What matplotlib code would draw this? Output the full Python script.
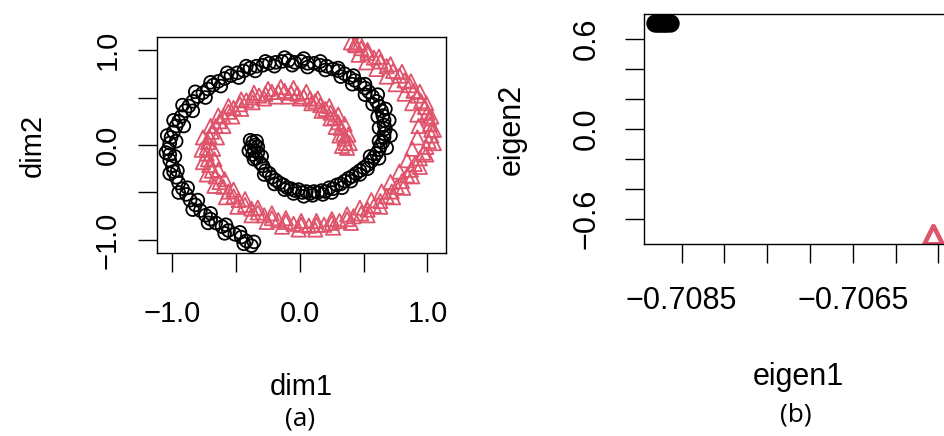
import matplotlib
matplotlib.use("Agg")
import matplotlib.pyplot as plt

# (a) spiral data: centre line of each band
black_x = [-0.37, -0.38, -0.36, -0.35, -0.37, -0.34, -0.33, -0.31, -0.29, -0.27, -0.24, -0.22,
           -0.19, -0.16, -0.13, -0.10, -0.07, -0.04, -0.01, 0.02, 0.05, 0.08, 0.11, 0.14,
           0.17, 0.20, 0.23, 0.26, 0.29, 0.32, 0.35, 0.38, 0.41, 0.44, 0.47, 0.50,
           0.53, 0.56, 0.58, 0.60, 0.62, 0.63, 0.65, 0.66, 0.66, 0.67, 0.66, 0.66,
           0.65, 0.64, 0.62, 0.60, 0.57, 0.54, 0.51, 0.47, 0.43, 0.39, 0.35, 0.30,
           0.26, 0.21, 0.16, 0.11, 0.06, 0.01, -0.04, -0.09, -0.14, -0.19, -0.24, -0.29,
           -0.34, -0.39, -0.44, -0.49, -0.54, -0.59, -0.64, -0.68, -0.72, -0.76, -0.80, -0.84,
           -0.87, -0.90, -0.93, -0.95, -0.97, -0.99, -1.01, -1.02, -1.03, -1.02, -1.02, -1.00,
           -0.99, -0.97, -0.95, -0.92, -0.89, -0.86, -0.82, -0.78, -0.74, -0.70, -0.66, -0.61,
           -0.56, -0.51, -0.46, -0.42, -0.38]
black_y = [0.03, -0.02, -0.06, 0.00, -0.10, -0.14, -0.08, -0.19, -0.22, -0.27, -0.30, -0.34,
           -0.37, -0.40, -0.42, -0.45, -0.46, -0.48, -0.47, -0.50, -0.49, -0.51, -0.49, -0.50,
           -0.48, -0.49, -0.45, -0.46, -0.42, -0.41, -0.38, -0.35, -0.33, -0.30, -0.27, -0.24,
           -0.21, -0.17, -0.13, -0.09, -0.05, -0.01, 0.03, 0.08, 0.12, 0.17, 0.21, 0.26,
           0.31, 0.36, 0.41, 0.46, 0.51, 0.56, 0.60, 0.64, 0.68, 0.71, 0.75, 0.78,
           0.80, 0.83, 0.84, 0.86, 0.86, 0.88, 0.87, 0.89, 0.88, 0.87, 0.86, 0.84,
           0.83, 0.81, 0.78, 0.76, 0.73, 0.70, 0.67, 0.63, 0.59, 0.55, 0.51, 0.46,
           0.41, 0.36, 0.30, 0.25, 0.20, 0.14, 0.08, 0.02, -0.04, -0.10, -0.16, -0.22,
           -0.28, -0.34, -0.40, -0.46, -0.52, -0.58, -0.63, -0.69, -0.74, -0.78, -0.82, -0.86,
           -0.90, -0.94, -0.97, -1.01, -1.06]

# scattered points at the edges of the black band
black_x2 = [-0.39, -0.34, -0.40, -0.33, -0.36, -0.30, -0.28, -0.20, -0.12, -0.05, 0.03, 0.10,
            0.18, 0.25, 0.33, 0.40, 0.47, 0.53, 0.55, 0.62, 0.68, 0.62, 0.71, 0.62,
            0.70, 0.61, 0.67, 0.57, 0.61, 0.51, 0.51, 0.41, 0.42, 0.32, 0.30, 0.20,
            0.16, 0.06, 0.03, -0.06, -0.12, -0.20, -0.27, -0.35, -0.42, -0.48, -0.57, -0.62,
            -0.70, -0.74, -0.82, -0.84, -0.92, -0.91, -0.99, -0.97, -1.04, -0.98, -1.05, -0.96,
            -1.02, -0.88, -0.95, -0.80, -0.84, -0.70, -0.72, -0.58, -0.59, -0.47, -0.44, -0.36]
black_y2 = [0.05, 0.04, -0.06, -0.02, -0.15, -0.12, -0.31, -0.41, -0.47, -0.51, -0.54, -0.53,
            -0.52, -0.50, -0.45, -0.38, -0.31, -0.25, -0.12, -0.14, -0.03, 0.04, 0.10, 0.18,
            0.26, 0.30, 0.38, 0.43, 0.53, 0.53, 0.64, 0.64, 0.73, 0.72, 0.81, 0.79,
            0.88, 0.82, 0.91, 0.84, 0.92, 0.83, 0.88, 0.78, 0.83, 0.71, 0.76, 0.62,
            0.66, 0.50, 0.56, 0.36, 0.42, 0.20, 0.26, 0.04, 0.10, -0.12, -0.08, -0.27,
            -0.30, -0.45, -0.50, -0.58, -0.68, -0.72, -0.82, -0.84, -0.93, -0.92, -1.04, -1.02]

pink_x = [0.37, 0.36, 0.35, 0.34, 0.32, 0.30, 0.27, 0.24, 0.20, 0.16, 0.12, 0.08,
          0.03, -0.02, -0.07, -0.12, -0.17, -0.22, -0.27, -0.32, -0.37, -0.42, -0.47, -0.52,
          -0.56, -0.60, -0.63, -0.66, -0.69, -0.71, -0.72, -0.73, -0.73, -0.72, -0.71, -0.69,
          -0.66, -0.63, -0.60, -0.56, -0.52, -0.48, -0.43, -0.38, -0.33, -0.28, -0.22, -0.17,
          -0.11, -0.05, 0.01, 0.07, 0.13, 0.19, 0.25, 0.31, 0.37, 0.42, 0.48, 0.53,
          0.58, 0.63, 0.68, 0.72, 0.76, 0.80, 0.84, 0.87, 0.90, 0.94, 0.97, 0.99,
          1.01, 1.03, 1.03, 1.02, 1.01, 1.00, 0.98, 0.95, 0.92, 0.89, 0.86, 0.82,
          0.78, 0.73, 0.68, 0.63, 0.58, 0.53, 0.48, 0.44, 0.40]
pink_y = [-0.03, 0.02, 0.07, 0.12, 0.18, 0.24, 0.29, 0.34, 0.38, 0.42, 0.46, 0.49,
          0.51, 0.54, 0.55, 0.57, 0.56, 0.56, 0.54, 0.52, 0.50, 0.47, 0.43, 0.39,
          0.35, 0.30, 0.25, 0.20, 0.14, 0.09, 0.03, -0.03, -0.09, -0.15, -0.21, -0.27,
          -0.33, -0.39, -0.44, -0.49, -0.54, -0.58, -0.63, -0.67, -0.71, -0.74, -0.77, -0.79,
          -0.81, -0.83, -0.84, -0.85, -0.84, -0.84, -0.82, -0.80, -0.78, -0.75, -0.72, -0.68,
          -0.64, -0.59, -0.54, -0.49, -0.44, -0.38, -0.32, -0.26, -0.20, -0.14, -0.08, -0.02,
          0.04, 0.10, 0.16, 0.22, 0.28, 0.34, 0.40, 0.46, 0.52, 0.57, 0.63, 0.68,
          0.73, 0.78, 0.83, 0.88, 0.92, 0.97, 1.02, 1.05, 1.08]

# scattered points at the edges of the pink band
pink_x2 = [0.39, 0.33, 0.38, 0.31, 0.35, 0.28, 0.30, 0.24, 0.23, 0.17, 0.14, 0.09,
           0.05, 0.00, -0.05, -0.09, -0.15, -0.19, -0.25, -0.28, -0.36, -0.37, -0.46, -0.46,
           -0.56, -0.53, -0.64, -0.60, -0.70, -0.65, -0.76, -0.68, -0.77, -0.67, -0.76, -0.64,
           -0.73, -0.59, -0.67, -0.52, -0.58, -0.43, -0.49, -0.33, -0.38, -0.22, -0.26, -0.11,
           -0.14, 0.01, -0.01, 0.13, 0.12, 0.25, 0.26, 0.37, 0.40, 0.47, 0.53, 0.56,
           0.63, 0.64, 0.73, 0.71, 0.81, 0.78, 0.88, 0.84, 0.94, 0.88, 0.99, 0.92,
           1.05, 0.93, 1.05, 0.92, 1.03, 0.88, 0.99, 0.82, 0.94, 0.75, 0.87, 0.68,
           0.80, 0.60, 0.71, 0.52, 0.62, 0.46, 0.53, 0.43, 0.47]
pink_y2 = [0.02, -0.01, 0.11, 0.10, 0.22, 0.19, 0.32, 0.28, 0.41, 0.36, 0.49, 0.44,
           0.56, 0.49, 0.60, 0.51, 0.61, 0.51, 0.59, 0.49, 0.55, 0.45, 0.48, 0.38,
           0.41, 0.30, 0.31, 0.20, 0.20, 0.08, 0.08, -0.04, -0.05, -0.15, -0.18, -0.26,
           -0.31, -0.36, -0.43, -0.47, -0.55, -0.57, -0.65, -0.66, -0.74, -0.72, -0.81, -0.77,
           -0.86, -0.80, -0.89, -0.80, -0.89, -0.78, -0.87, -0.73, -0.82, -0.66, -0.74, -0.58,
           -0.65, -0.49, -0.55, -0.39, -0.45, -0.28, -0.33, -0.16, -0.23, -0.04, -0.10, 0.08,
           0.02, 0.20, 0.16, 0.32, 0.30, 0.44, 0.44, 0.54, 0.56, 0.64, 0.67, 0.72,
           0.77, 0.80, 0.85, 0.87, 0.93, 0.95, 1.00, 1.06, 1.08]

# (b) eigenvector embedding: each class collapses to almost one point
eig_black_x = [-0.70881, -0.70878, -0.70874, -0.70871, -0.70868, -0.70864]
eig_black_y = [0.7071, 0.7071, 0.7072, 0.7070, 0.7071, 0.7071]
eig_pink_x = [-0.70556, -0.70556, -0.70555]
eig_pink_y = [-0.7071, -0.7071, -0.7071]

a_ticks = [-1.0, -0.5, 0.0, 0.5, 1.0]
a_labels = ["\u22121.0", "", "0.0", "", "1.0"]
b_xticks = [-0.7085, -0.7080, -0.7075, -0.7070, -0.7065, -0.7060, -0.7055]
b_xlabels = ["\u22120.7085", "", "", "", "\u22120.7065", "", ""]
b_yticks = [-0.6, -0.4, -0.2, 0.0, 0.2, 0.4, 0.6]
b_ylabels = ["\u22120.6", "", "", "0.0", "", "", "0.6"]

pink = "#DF536B"
plt.rcParams["font.family"] = "Liberation Sans"

fig = plt.figure(figsize=(9.45, 4.36), dpi=100)
W, H = 945.0, 436.0

def place(l, t, r, b):
    return [l / W, (H - b) / H, (r - l) / W, (b - t) / H]

# panel (a)
ax1 = fig.add_axes(place(157, 37, 446, 253))
ax1.scatter(black_x + black_x2, black_y + black_y2, s=85, facecolors="none",
            edgecolors="black", linewidths=1.3, marker="o")
ax1.scatter(pink_x + pink_x2, pink_y + pink_y2, s=105, facecolors="none",
            edgecolors=pink, linewidths=1.3, marker="^")
ax1.set_xlim(-1.12, 1.145)
ax1.set_ylim(-1.137, 1.137)
ax1.set_xticks(a_ticks)
ax1.set_xticklabels(a_labels)
ax1.set_yticks(a_ticks)
ax1.set_yticklabels(a_labels, rotation=90, va="center")
ax1.tick_params(axis="both", direction="out", length=13.5, width=1.0, labelsize=21)
ax1.tick_params(axis="x", pad=20)
ax1.tick_params(axis="y", pad=12)
ax1.set_xlabel("dim1", fontsize=21, va="center")
ax1.xaxis.set_label_coords(0.5, -0.62)
ax1.set_ylabel("dim2", fontsize=21, va="center")
ax1.yaxis.set_label_coords(-0.43, 0.5)
for sp in ax1.spines.values():
    sp.set_linewidth(1.0)

# panel (b), runs off the right edge like the source
ax2 = fig.add_axes(place(644, 14, 952, 244))
ax2.scatter(eig_black_x, eig_black_y, s=150, color="black", marker="o")
ax2.scatter(eig_pink_x, eig_pink_y, s=170, facecolors="none", edgecolors=pink,
            linewidths=2.6, marker="^")
ax2.set_xlim(-0.70894, -0.70534)
ax2.set_ylim(-0.767, 0.767)
ax2.set_xticks(b_xticks)
ax2.set_xticklabels(b_xlabels)
ax2.set_yticks(b_yticks)
ax2.set_yticklabels(b_ylabels, rotation=90, va="center")
ax2.tick_params(axis="both", direction="out", length=13.5, width=1.0, labelsize=22)
ax2.tick_params(axis="x", pad=17)
ax2.tick_params(axis="y", pad=17)
ax2.set_xlabel("eigen1", fontsize=22, va="center")
ax2.xaxis.set_label_coords(0.5, -0.58)
ax2.set_ylabel("eigen2", fontsize=22, va="center")
ax2.yaxis.set_label_coords(-0.43, 0.5)
for sp in ax2.spines.values():
    sp.set_linewidth(1.0)

fig.text(300 / W, 1 - 419 / H, "(a)", ha="center", va="center", fontsize=19, family="Open Sans")
fig.text(796 / W, 1 - 415 / H, "(b)", ha="center", va="center", fontsize=19, family="Open Sans")

fig.savefig("out.png", dpi=100)
